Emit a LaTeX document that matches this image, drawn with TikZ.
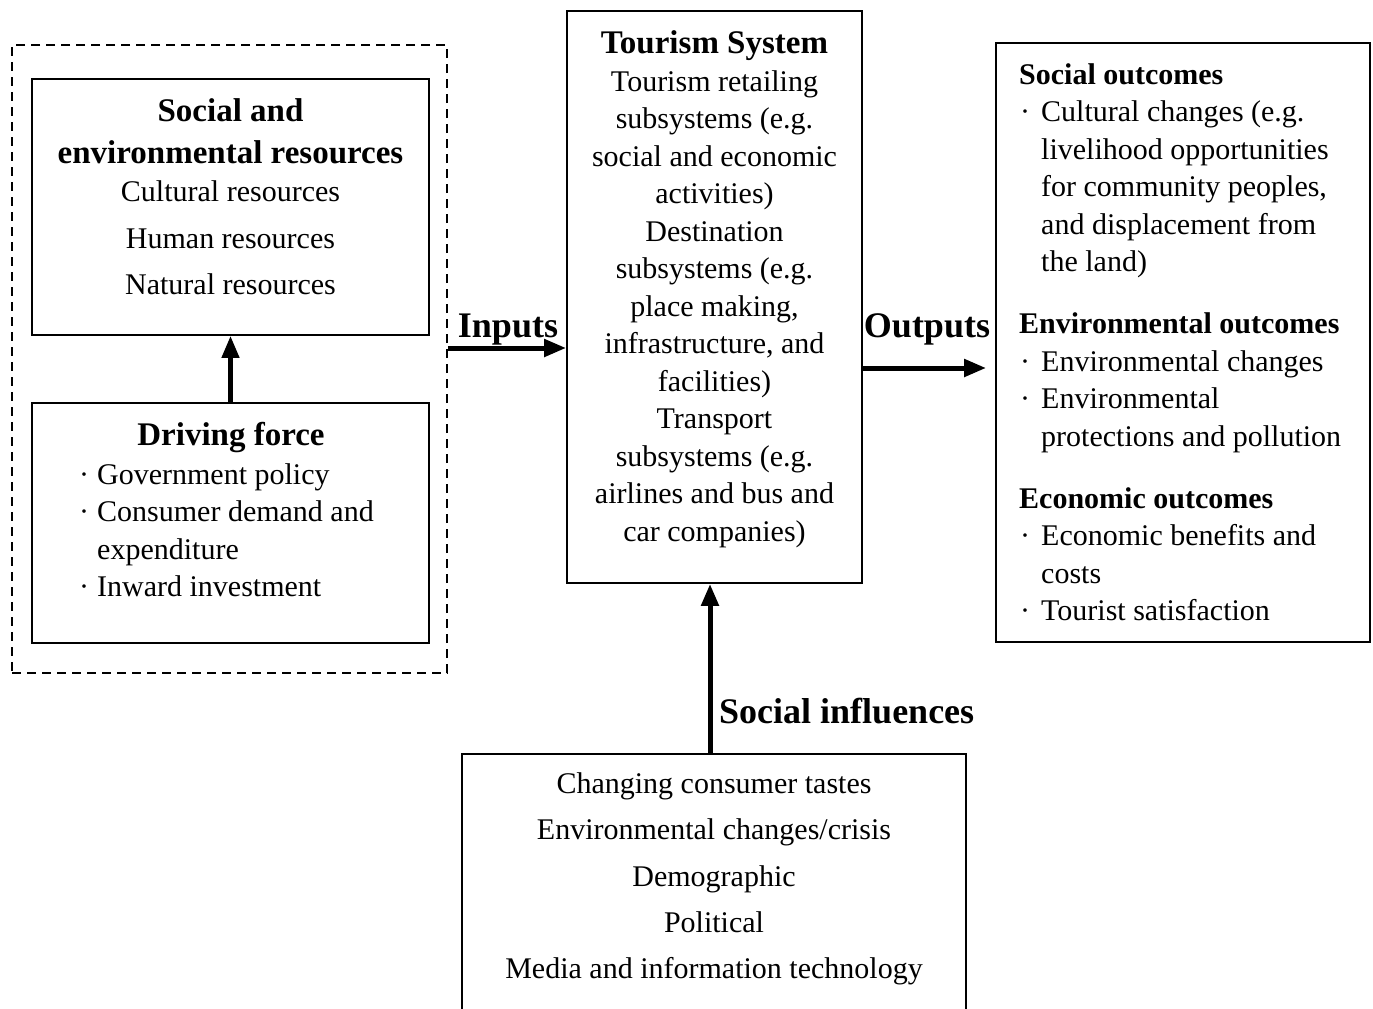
\documentclass[tikz,border=0pt]{standalone}
\usepackage{fontspec}
\setmainfont{Liberation Serif}
\usetikzlibrary{arrows.meta,calc}
\begin{document}
\begin{tikzpicture}[x=1pt,y=-1pt,
  box/.style={draw,line width=1.8pt,inner sep=0pt},
  body/.style={font=\fontsize{30}{37.5}\selectfont,inner sep=0pt},
  lab/.style={font=\fontsize{36}{40}\selectfont\bfseries,inner sep=0pt},
  arr/.style={line width=5pt,-{Triangle[length=22pt,width=17pt]}}]
\useasboundingbox (0,0) rectangle (1373,1009);
\clip (0,0) rectangle (1373,1009);
\newcommand{\hd}[1]{{\bfseries\fontsize{33}{37.5}\selectfont #1}}
\newcommand{\hdo}[1]{{\bfseries #1}}
\newcommand{\bul}{\makebox[22pt][l]{\hspace{1pt}·}}
\newcommand{\bulb}{\makebox[18pt][l]{·}}
% boxes
\node[box,dash pattern=on 9pt off 6pt,minimum width=435pt,minimum height=628pt] (dash) at (229.5,359) {};
\node[box,minimum width=397pt,minimum height=256pt] (box1) at (230.5,207) {};
\node[box,minimum width=397pt,minimum height=240pt] (box2) at (230.5,523) {};
\node[box,minimum width=295pt,minimum height=572pt] (ts) at (714.5,297) {};
\node[box,minimum width=374pt,minimum height=599pt] (out) at (1183,342.5) {};
\node[box,minimum width=504pt,minimum height=290pt] (inf) at (714,899) {};
% texts
\node[body,align=center] (t1) at (230.5,197) {\hd{Social and}\\[4.5pt]\hd{environmental resources}\\[0.5pt]Cultural resources\\[9pt]Human resources\\[9pt]Natural resources};
\node[body] (dfh) at (231,438) {\hd{Driving force}};
\node[body,align=left,anchor=north west] (dft) at (79,463) {\bulb Government policy\\\bulb Consumer demand and\\\hspace{18pt}expenditure\\\bulb Inward investment};
\node[body,align=center] (tst) at (714.5,289) {\hd{Tourism System}\\Tourism retailing\\subsystems (e.g.\\social and economic\\activities)\\Destination\\subsystems (e.g.\\place making,\\infrastructure, and\\facilities)\\Transport\\subsystems (e.g.\\airlines and bus and\\car companies)};
\node[body,align=left,anchor=north west] (outt) at (1019,63) {\hdo{Social outcomes}\\\bul Cultural changes (e.g.\\\hspace{22pt}livelihood opportunities\\\hspace{22pt}for community peoples,\\\hspace{22pt}and displacement from\\\hspace{22pt}the land)\\[24.5pt]\hdo{Environmental outcomes}\\\bul Environmental changes\\\bul Environmental\\\hspace{22pt}protections and pollution\\[24.5pt]\hdo{Economic outcomes}\\\bul Economic benefits and\\\hspace{22pt}costs\\\bul Tourist satisfaction};
\node[body,align=center] (inft) at (714,879) {Changing consumer tastes\\[8.8pt]Environmental changes/crisis\\[8.8pt]Demographic\\[8.8pt]Political\\[8.8pt]Media and information technology};
% labels
\node[lab,anchor=base] (linp) at (508,337) {Inputs};
\node[lab,anchor=base] (lout) at (927,337) {Outputs};
\node[lab,anchor=base west] (linf) at (719,723) {Social influences};
% arrows
\draw[arr,line width=4.5pt] (box2.north) -- (box1.south);
\coordinate (ia) at ($(dash.east)+(0,-11)$);
\draw[arr] (ia) -- (ia -| ts.west);
\coordinate (oa) at ($(ts.east)+(0,71)$);
\coordinate (ob) at ($(out.west)+(-9,0)$);
\draw[arr] (oa) -- (oa -| ob);
\coordinate (sa) at ($(inf.north)+(-4,0)$);
\draw[arr] (sa) -- (sa |- ts.south);
\end{tikzpicture}
\end{document}
